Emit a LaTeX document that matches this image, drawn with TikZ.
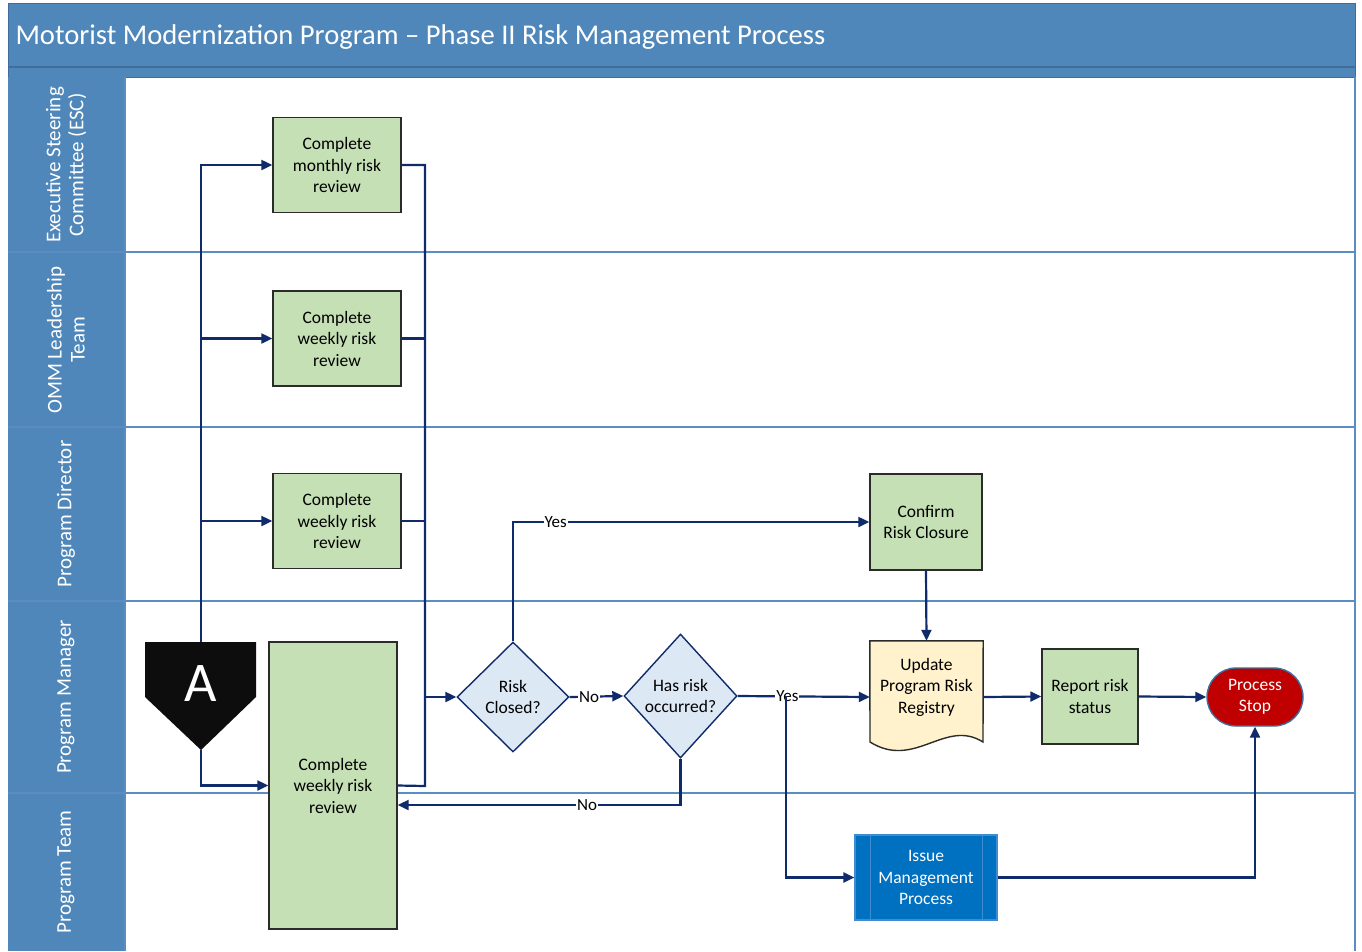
\documentclass[tikz,border=0pt]{standalone}
\usepackage{fontspec}
\setmainfont{Carlito}
\usetikzlibrary{arrows.meta,shapes.geometric,calc}
\definecolor{hdr}{HTML}{4F87BA}
\definecolor{hdrline}{HTML}{3F6E9C}
\definecolor{laneline}{HTML}{5A8DC4}
\definecolor{navy}{HTML}{0F2B6B}
\definecolor{boxg}{HTML}{C5E0B4}
\definecolor{dia}{HTML}{DDE8F5}
\definecolor{docc}{HTML}{FFF2CC}
\definecolor{stopred}{HTML}{C00000}
\definecolor{issue}{HTML}{0070C0}
\definecolor{issueline}{HTML}{3F8DD0}
\definecolor{boxborder}{HTML}{2B2B2B}
\tikzset{
  proc/.style={draw=boxborder, line width=1.4pt, fill=boxg, minimum width=128pt, minimum height=95pt,
    inner sep=0pt, align=center, font=\fontsize{17.5}{21.5}\selectfont},
  dec/.style={diamond, draw=navy, line width=1.4pt, fill=dia, inner sep=0pt, align=center,
    font=\fontsize{17.5}{21.5}\selectfont},
  conn/.style={draw=navy, line width=2.2pt, -{Triangle[length=11pt,width=10pt]}},
  plain/.style={draw=navy, line width=2.2pt},
  lbl/.style={fill=white, inner sep=1pt, font=\fontsize{17}{20}\selectfont, text=black},
  lanetxt/.style={rotate=90, text=white, align=center, font=\fontsize{21}{23}\selectfont},
  laneline/.style={draw=laneline, line width=1.4pt}
}
\begin{document}
\begin{tikzpicture}[x=1pt,y=-1pt]
\useasboundingbox (0,0) rectangle (1362,951);
\fill[white] (0,0) rectangle (1362,951);
% header and lane column
\fill[hdr] (8,3) rectangle (1355,77);
\draw[hdrline, line width=1.2pt] (8,67) -- (1355,67);
\draw[hdrline, line width=1pt] (8,3) rectangle (1355,77);
\fill[hdr] (8,77) rectangle (125,951);
\node[anchor=west, text=white, font=\fontsize{28.6}{32}\selectfont] (title) at (12,37)
  {Motorist Modernization Program -- Phase II Risk Management Process};
% lane borders
\foreach \yy in {252,427,601,793} { \draw[laneline] (8,\yy) -- (1355,\yy); }
\draw[laneline] (1355,77) -- (1355,951);
\draw[laneline] (125,77) -- (125,951);
% lane labels
\node[lanetxt] (l1) at (66,165) {Executive Steering\\Committee (ESC)};
\node[lanetxt] (l2) at (66,340) {OMM Leadership\\Team};
\node[lanetxt] (l3) at (66,514) {Program Director};
\node[lanetxt] (l4) at (66,697) {Program Manager};
\node[lanetxt] (l5) at (66,872) {Program Team};

% nodes
\node[proc] (m1) at (337,165) {Complete\\monthly risk\\review};
\node[proc] (w1) at (337,338.5) {Complete\\weekly risk\\review};
\node[proc] (w2) at (337,521) {Complete\\weekly risk\\review};
\node[proc, minimum height=287pt] (big) at (333,785.5) {Complete\\weekly risk\\review};
% off-page connector A
\fill[black!95] (145,642) -- (256,642) -- (256,697) -- (201,750) -- (145,697) -- cycle;
\node[text=white, font=\fontsize{56}{60}\selectfont] (A) at (201,684) {A};
\coordinate (Atop) at (201,642);
\coordinate (Abot) at (201,750);

\node[dec, minimum width=112pt, minimum height=110pt] (d1) at (513,697) {Risk\\Closed?};
\node[dec, minimum width=113pt, minimum height=124pt] (d2) at (680.5,696) {Has risk\\occurred?};
\node[proc, minimum width=112pt, minimum height=96pt] (conf) at (926,522) {Confirm\\Risk Closure};
% document
\node[minimum width=113pt, minimum height=112pt, inner sep=0pt] (upd) at (926.5,697) {};
\draw[draw=boxborder, line width=1.4pt, fill=docc]
  (upd.north west) -- (upd.north east) -- (983,742)
  .. controls (945,718) and (915,770) .. (870,742) -- cycle;
\node[align=center, font=\fontsize{17.5}{21.5}\selectfont] (updtxt) at (926.5,687) {Update\\Program Risk\\Registry};
\node[proc, minimum width=96pt, minimum height=95pt] (rep) at (1090,696.5) {Report risk\\status};
\node[draw=hdrline, line width=1.4pt, fill=stopred, rounded corners=29pt, minimum width=96pt, minimum height=58pt,
  inner sep=0pt, align=center, text=white, font=\fontsize{17.5}{21.5}\selectfont] (stop) at (1255,697) {Process\\Stop};
\node[draw=issueline, line width=1.2pt, fill=issue, minimum width=142pt, minimum height=85pt, inner sep=0pt,
  align=center, text=white, font=\fontsize{17.5}{21.5}\selectfont] (iss) at (926,877.5) {Issue\\Management\\Process};
\draw[issueline, line width=1.2pt] ([xshift=16pt]iss.north west) -- ([xshift=16pt]iss.south west);
\draw[issueline, line width=1.2pt] ([xshift=-15pt]iss.north east) -- ([xshift=-15pt]iss.south east);

% connectors
\coordinate (coll) at (425,786);
\coordinate (ybr) at (786,696);
\draw[conn] (Atop) |- (m1.west);
\draw[conn] (Atop) |- (w1.west);
\draw[conn] (Atop) |- (w2.west);
\draw[conn] (Abot) |- (big.west);
\draw[plain] (m1.east) -| (coll) -- (big.east);
\draw[plain] (w1.east) -- (w1.east -| coll);
\draw[plain] (w2.east) -- (w2.east -| coll);
\draw[conn] (d1.west -| coll) -- (d1.west);
\draw[conn] (d1.north) |- (conf.west) node[lbl, pos=0.56] (yes1) {Yes};
\draw[conn] (d1.east) -- (d2.west) node[lbl, pos=0.36] (no1) {No};
\draw[conn] (d2.south) |- ([yshift=-19.5pt]big.east) node[lbl, pos=0.665] (no2) {No};
\draw[conn] (d2.east) -- (upd.west) node[lbl, pos=0.376] (yes2) {Yes};
\draw[conn] (ybr) |- (iss.west);
\draw[conn] (conf.south) -- (upd.north);
\draw[conn] (upd.east) -- (rep.west);
\draw[conn] (rep.east) -- (stop.west);
\draw[conn] (iss.east) -| (stop.south);
\end{tikzpicture}
\end{document}
